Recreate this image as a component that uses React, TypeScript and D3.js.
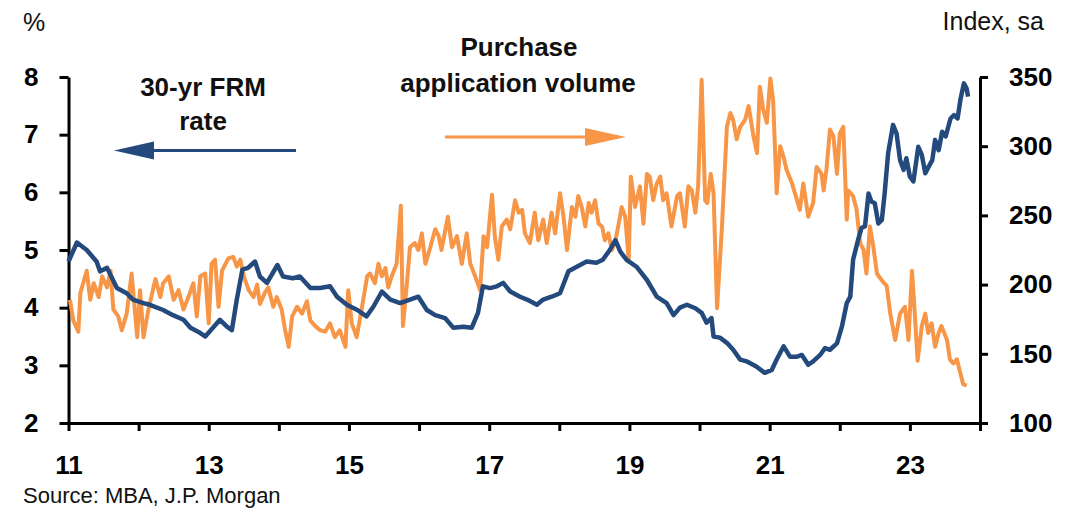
import React, { useEffect, useRef } from "react";
import * as d3 from "d3";

// 30-yr FRM rate, % (left axis) - [decimal year, value]
const frmRate: [number, number][] = [
  [2011.0, 4.8], [2011.12, 5.13], [2011.26, 5.0], [2011.4, 4.8], [2011.45, 4.63],
  [2011.55, 4.69], [2011.69, 4.34], [2011.83, 4.25], [2011.92, 4.14], [2012.07, 4.08],
  [2012.16, 4.05], [2012.35, 3.96], [2012.49, 3.87], [2012.64, 3.79], [2012.74, 3.65],
  [2012.88, 3.56], [2012.95, 3.5], [2013.06, 3.65], [2013.16, 3.79], [2013.26, 3.67],
  [2013.33, 3.61], [2013.4, 4.14], [2013.48, 4.66], [2013.56, 4.69], [2013.66, 4.8],
  [2013.73, 4.54], [2013.83, 4.43], [2013.98, 4.74], [2014.06, 4.54], [2014.2, 4.51],
  [2014.3, 4.54], [2014.45, 4.34], [2014.59, 4.34], [2014.73, 4.37], [2014.83, 4.19],
  [2014.97, 4.05], [2015.12, 3.96], [2015.25, 3.85], [2015.35, 4.02], [2015.47, 4.28],
  [2015.59, 4.14], [2015.73, 4.08], [2015.87, 4.14], [2015.99, 4.19], [2016.11, 3.96],
  [2016.23, 3.87], [2016.37, 3.82], [2016.49, 3.65], [2016.63, 3.67], [2016.75, 3.65],
  [2016.84, 3.91], [2016.91, 4.37], [2017.01, 4.34], [2017.11, 4.37], [2017.2, 4.43],
  [2017.3, 4.28], [2017.44, 4.19], [2017.54, 4.14], [2017.68, 4.05], [2017.77, 4.14],
  [2017.89, 4.19], [2018.01, 4.25], [2018.13, 4.63], [2018.25, 4.71], [2018.39, 4.8],
  [2018.53, 4.78], [2018.62, 4.83], [2018.72, 5.0], [2018.8, 5.17], [2018.87, 4.97],
  [2018.96, 4.83], [2019.1, 4.71], [2019.25, 4.48], [2019.39, 4.19], [2019.53, 4.08],
  [2019.63, 3.87], [2019.72, 4.0], [2019.82, 4.05], [2019.94, 3.99], [2020.03, 3.91],
  [2020.1, 3.74], [2020.17, 3.82], [2020.2, 3.5], [2020.29, 3.48], [2020.39, 3.39],
  [2020.48, 3.27], [2020.58, 3.1], [2020.67, 3.07], [2020.81, 2.98], [2020.93, 2.87],
  [2021.03, 2.92], [2021.1, 3.1], [2021.2, 3.33], [2021.29, 3.15], [2021.39, 3.15],
  [2021.46, 3.18], [2021.55, 3.01], [2021.62, 3.07], [2021.72, 3.18], [2021.79, 3.3],
  [2021.86, 3.27], [2021.96, 3.38], [2022.03, 3.67], [2022.1, 4.08], [2022.15, 4.19],
  [2022.19, 4.83], [2022.26, 5.17], [2022.31, 5.38], [2022.36, 5.41], [2022.41, 5.98],
  [2022.45, 5.84], [2022.5, 5.81], [2022.55, 5.46], [2022.6, 5.52], [2022.64, 5.98],
  [2022.69, 6.68], [2022.76, 7.17], [2022.81, 7.02], [2022.86, 6.56], [2022.91, 6.39],
  [2022.95, 6.59], [2023.0, 6.27], [2023.05, 6.19], [2023.12, 6.79], [2023.17, 6.65],
  [2023.22, 6.33], [2023.27, 6.45], [2023.32, 6.56], [2023.36, 6.91], [2023.41, 6.73],
  [2023.46, 7.05], [2023.51, 6.97], [2023.58, 7.28], [2023.63, 7.34], [2023.68, 7.28],
  [2023.72, 7.6], [2023.77, 7.89], [2023.81, 7.8], [2023.83, 7.66],
];

// Purchase application volume, index sa (right axis)
const purchaseIndex: [number, number][] = [
  [2011.02, 189], [2011.07, 174], [2011.14, 166], [2011.17, 194], [2011.26, 210],
  [2011.31, 189], [2011.36, 201], [2011.43, 191], [2011.48, 206], [2011.55, 198],
  [2011.6, 210], [2011.64, 182], [2011.71, 177], [2011.76, 167], [2011.83, 179],
  [2011.9, 208], [2011.98, 162], [2012.02, 196], [2012.07, 162], [2012.14, 182],
  [2012.24, 204], [2012.31, 191], [2012.35, 201], [2012.43, 206], [2012.5, 189],
  [2012.57, 196], [2012.64, 182], [2012.71, 191], [2012.78, 201], [2012.83, 177],
  [2012.88, 206], [2012.95, 208], [2013.0, 172], [2013.04, 215], [2013.09, 218],
  [2013.14, 184], [2013.19, 210], [2013.28, 219], [2013.35, 220], [2013.4, 213],
  [2013.45, 218], [2013.5, 206], [2013.57, 196], [2013.64, 191], [2013.69, 200],
  [2013.73, 186], [2013.8, 194], [2013.85, 198], [2013.92, 184], [2013.97, 191],
  [2014.04, 182], [2014.09, 167], [2014.14, 155], [2014.19, 177], [2014.26, 184],
  [2014.33, 179], [2014.4, 188], [2014.45, 174], [2014.52, 170], [2014.59, 167],
  [2014.66, 166], [2014.73, 172], [2014.8, 162], [2014.87, 167], [2014.95, 155],
  [2014.99, 196], [2015.04, 172], [2015.11, 162], [2015.18, 182], [2015.26, 206],
  [2015.3, 208], [2015.37, 201], [2015.42, 215], [2015.47, 206], [2015.52, 212],
  [2015.56, 198], [2015.61, 206], [2015.68, 215], [2015.74, 257], [2015.77, 170],
  [2015.83, 203], [2015.87, 227], [2015.94, 230], [2015.99, 225], [2016.04, 237],
  [2016.09, 215], [2016.16, 227], [2016.23, 240], [2016.28, 235], [2016.32, 225],
  [2016.41, 249], [2016.47, 227], [2016.54, 235], [2016.61, 215], [2016.68, 237],
  [2016.73, 215], [2016.8, 206], [2016.87, 196], [2016.92, 235], [2016.97, 227],
  [2017.04, 265], [2017.08, 235], [2017.13, 218], [2017.18, 242], [2017.25, 247],
  [2017.3, 240], [2017.37, 261], [2017.42, 252], [2017.47, 254], [2017.51, 237],
  [2017.58, 230], [2017.65, 252], [2017.7, 232], [2017.77, 247], [2017.82, 230],
  [2017.89, 252], [2017.94, 237], [2018.01, 266], [2018.06, 249], [2018.11, 225],
  [2018.18, 256], [2018.23, 249], [2018.27, 264], [2018.32, 256], [2018.37, 242],
  [2018.42, 259], [2018.46, 252], [2018.51, 261], [2018.56, 244], [2018.61, 242],
  [2018.65, 232], [2018.7, 237], [2018.75, 225], [2018.8, 232], [2018.84, 242],
  [2018.89, 256], [2018.94, 249], [2018.99, 218], [2019.02, 278], [2019.08, 256],
  [2019.15, 271], [2019.2, 244], [2019.25, 280], [2019.29, 278], [2019.34, 261],
  [2019.39, 273], [2019.44, 278], [2019.48, 261], [2019.53, 266], [2019.6, 242],
  [2019.68, 264], [2019.72, 266], [2019.79, 242], [2019.84, 271], [2019.89, 268],
  [2019.94, 252], [2019.98, 271], [2020.03, 348], [2020.08, 261], [2020.11, 259],
  [2020.16, 280], [2020.2, 266], [2020.25, 183], [2020.32, 242], [2020.39, 314],
  [2020.44, 324], [2020.48, 319], [2020.53, 305], [2020.58, 314], [2020.65, 319],
  [2020.7, 329], [2020.77, 307], [2020.82, 295], [2020.86, 343], [2020.91, 326],
  [2020.96, 317], [2021.01, 349], [2021.05, 333], [2021.1, 266], [2021.15, 300],
  [2021.2, 292], [2021.24, 283], [2021.32, 273], [2021.39, 261], [2021.43, 254],
  [2021.48, 273], [2021.55, 249], [2021.62, 259], [2021.67, 285], [2021.74, 280],
  [2021.77, 268], [2021.81, 283], [2021.86, 312], [2021.91, 307], [2021.96, 280],
  [2022.0, 309], [2022.05, 314], [2022.1, 247], [2022.12, 268], [2022.19, 264],
  [2022.24, 254], [2022.29, 230], [2022.34, 225], [2022.38, 208], [2022.43, 242],
  [2022.48, 227], [2022.53, 208], [2022.6, 203], [2022.67, 199], [2022.72, 179],
  [2022.79, 160], [2022.86, 179], [2022.93, 184], [2022.98, 160], [2023.03, 210],
  [2023.07, 179], [2023.11, 145], [2023.17, 170], [2023.22, 179], [2023.26, 165],
  [2023.31, 172], [2023.36, 155], [2023.41, 165], [2023.45, 170], [2023.53, 160],
  [2023.57, 146], [2023.62, 143], [2023.67, 146], [2023.72, 136], [2023.76, 128],
  [2023.81, 127],
];

const leftTicks = [2, 3, 4, 5, 6, 7, 8];
const rightTicks = [100, 150, 200, 250, 300, 350];
const yearTicks = d3.range(2011, 2025);
const yearLabels = ["11", "13", "15", "17", "19", "21", "23"];

const BLUE = "#23497d";
const ORANGE = "#f79646";
const FONT = "'Liberation Sans', Arial, sans-serif";

const App = () => {
  const chart = useRef<SVGSVGElement>(null);

  useEffect(() => {
    const svg = d3.select(chart.current);
    svg.selectAll("*").remove();

    // scales
    const x = d3.scaleLinear().domain([2011, 2024]).range([68.5, 980]);
    const yLeft = d3.scaleLinear().domain([2, 8]).range([423, 77]);
    const yRight = d3.scaleLinear().domain([100, 350]).range([423, 77]);

    // axes
    const styleAxis = (g: any) => {
      g.select(".domain").attr("stroke", "#000").attr("stroke-width", 3);
      g.selectAll(".tick line").attr("stroke", "#000").attr("stroke-width", 3);
      g.selectAll(".tick text")
        .attr("fill", "#000")
        .style("font-family", FONT)
        .style("font-size", "26px")
        .style("font-weight", "bold");
    };

    svg
      .append("g")
      .attr("transform", "translate(68.5,0)")
      .call(
        d3
          .axisLeft(yLeft)
          .tickValues(leftTicks)
          .tickFormat(d3.format("d"))
          .tickSize(9)
          .tickSizeOuter(0)
          .tickPadding(21)
      )
      .call(styleAxis);

    svg
      .append("g")
      .attr("transform", "translate(980,0)")
      .call(
        d3
          .axisRight(yRight)
          .tickValues(rightTicks)
          .tickFormat(d3.format("d"))
          .tickSize(8)
          .tickSizeOuter(0)
          .tickPadding(21)
      )
      .call(styleAxis);

    svg
      .append("g")
      .attr("transform", "translate(0,423)")
      .call(
        d3
          .axisBottom(x)
          .tickValues(yearTicks)
          .tickSize(8)
          .tickSizeOuter(0)
          .tickPadding(25)
          .tickFormat((d: any) => {
            const s = String(d).slice(2);
            return yearLabels.includes(s) ? s : "";
          })
      )
      .call(styleAxis);

    // lines
    const orangeLine = d3
      .line<[number, number]>()
      .x((d) => x(d[0]))
      .y((d) => yRight(d[1]));
    const blueLine = d3
      .line<[number, number]>()
      .x((d) => x(d[0]))
      .y((d) => yLeft(d[1]));

    svg
      .append("path")
      .datum(purchaseIndex)
      .attr("d", orangeLine)
      .attr("fill", "none")
      .attr("stroke", ORANGE)
      .attr("stroke-width", 4)
      .attr("stroke-linejoin", "round");

    svg
      .append("path")
      .datum(frmRate)
      .attr("d", blueLine)
      .attr("fill", "none")
      .attr("stroke", BLUE)
      .attr("stroke-width", 4.5)
      .attr("stroke-linejoin", "round");

    // annotations
    const txt = (s: string, tx: number, ty: number, bold: boolean, size: number, anchor = "middle") =>
      svg
        .append("text")
        .attr("x", tx)
        .attr("y", ty)
        .attr("text-anchor", anchor)
        .attr("fill", "#111")
        .style("font-family", FONT)
        .style("font-size", size + "px")
        .style("font-weight", bold ? "bold" : "normal")
        .text(s);

    txt("%", 23, 31, false, 25, "start");
    txt("Index, sa", 1044, 30, false, 25, "end");
    txt("30-yr FRM", 203, 96, true, 26);
    txt("rate", 203, 130, true, 26);
    txt("Purchase", 519, 56, true, 26);
    txt("application volume", 518, 92, true, 26);
    txt("Source: MBA, J.P. Morgan", 23, 503, false, 22, "start");

    // arrows
    svg.append("line").attr("x1", 296).attr("x2", 150).attr("y1", 150.5).attr("y2", 150.5)
      .attr("stroke", BLUE).attr("stroke-width", 3);
    svg.append("polygon").attr("points", "114,150.5 154,141.5 154,159.5").attr("fill", BLUE);

    svg.append("line").attr("x1", 445).attr("x2", 590).attr("y1", 137).attr("y2", 137)
      .attr("stroke", ORANGE).attr("stroke-width", 3);
    svg.append("polygon").attr("points", "626,137 585,128 585,146").attr("fill", ORANGE);
  }, []);

  return (
    <svg
      ref={chart}
      width={1084}
      height={515}
      style={{ position: "absolute", left: 0, top: 0, background: "#fff" }}
    ></svg>
  );
};

export default App;
